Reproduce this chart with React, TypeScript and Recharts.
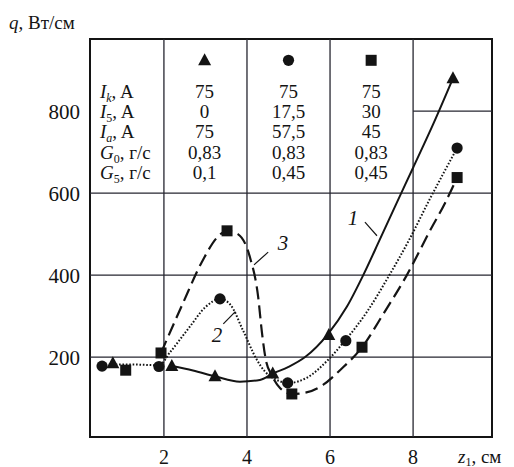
import React from 'react';
import {
  ComposedChart, XAxis, YAxis, Line, Scatter, ReferenceLine, ReferenceArea, ReferenceDot,
} from 'recharts';

// ---- axes ----
const X_DOMAIN: [number, number] = [0.22, 9.9];
const Y_DOMAIN: [number, number] = [5, 976];
const xTicks = [2, 4, 6, 8];
const yTicks = [200, 400, 600, 800];

// ---- measured points (markers) ----
const triPoints = [
  { x: 0.77, y: 185 }, { x: 2.19, y: 178 }, { x: 3.23, y: 153 },
  { x: 4.62, y: 160 }, { x: 5.97, y: 254 }, { x: 8.96, y: 880 },
];
const circlePoints = [
  { x: 0.51, y: 178 }, { x: 1.88, y: 177 }, { x: 3.35, y: 342 },
  { x: 4.98, y: 137 }, { x: 6.38, y: 240 }, { x: 9.06, y: 710 },
];
const squarePoints = [
  { x: 1.08, y: 168 }, { x: 1.93, y: 210 }, { x: 3.52, y: 508 },
  { x: 5.08, y: 110 }, { x: 6.77, y: 224 }, { x: 9.06, y: 638 },
];

// ---- curves ----
const curve1 = [
  { x: 2.19, y: 178 }, { x: 2.7, y: 167 }, { x: 3.23, y: 153 }, { x: 3.83, y: 140 },
  { x: 4.31, y: 144 }, { x: 4.63, y: 160 }, { x: 5.0, y: 176 }, { x: 5.4, y: 200 },
  { x: 5.95, y: 256 }, { x: 6.4, y: 322 }, { x: 6.8, y: 400 }, { x: 7.2, y: 487 },
  { x: 7.6, y: 575 }, { x: 8.0, y: 662 }, { x: 8.5, y: 772 }, { x: 8.96, y: 880 },
];
const curve2 = [
  { x: 0.51, y: 182 }, { x: 1.2, y: 182 }, { x: 1.88, y: 180 }, { x: 2.15, y: 212 },
  { x: 2.63, y: 275 }, { x: 3.0, y: 322 }, { x: 3.35, y: 342 }, { x: 3.6, y: 328 },
  { x: 3.9, y: 266 }, { x: 4.24, y: 193 }, { x: 4.43, y: 165 }, { x: 4.7, y: 145 },
  { x: 4.99, y: 137 }, { x: 5.45, y: 150 }, { x: 5.95, y: 193 }, { x: 6.36, y: 240 },
  { x: 6.9, y: 312 }, { x: 7.4, y: 395 }, { x: 7.9, y: 485 }, { x: 8.4, y: 585 },
  { x: 9.06, y: 710 },
];
const curve3 = [
  { x: 1.93, y: 210 }, { x: 2.46, y: 332 }, { x: 2.94, y: 437 }, { x: 3.3, y: 494 },
  { x: 3.52, y: 508 }, { x: 3.78, y: 500 }, { x: 4.07, y: 444 }, { x: 4.27, y: 346 },
  { x: 4.36, y: 260 }, { x: 4.45, y: 195 }, { x: 4.6, y: 155 }, { x: 4.8, y: 124 },
  { x: 5.08, y: 110 }, { x: 5.4, y: 113 }, { x: 5.83, y: 132 }, { x: 6.24, y: 168 },
  { x: 6.77, y: 224 }, { x: 7.3, y: 308 }, { x: 7.85, y: 400 }, { x: 8.4, y: 507 },
  { x: 8.77, y: 576 }, { x: 9.06, y: 638 },
];

// ---- table ----
const tableRowY = [849, 800, 751, 700, 651];
const tableSymbolY = 924;
const tableColX = [2.98, 5.0, 6.99];
const tableLabelX = 0.46;
const tableLabels = [
  { main: 'I', sub: 'k', subItalic: true, unit: ', A' },
  { main: 'I', sub: '5', subItalic: false, unit: ', A' },
  { main: 'I', sub: 'a', subItalic: true, unit: ', A' },
  { main: 'G', sub: '0', subItalic: false, unit: ', г/с' },
  { main: 'G', sub: '5', subItalic: false, unit: ', г/с' },
];
const tableValues = [
  ['75', '0', '75', '0,83', '0,1'],
  ['75', '17,5', '57,5', '0,83', '0,45'],
  ['75', '30', '45', '0,83', '0,45'],
];

// ---- curve labels ----
const curveLabels = [
  { text: '1', x: 6.55, y: 539, lx1: 6.84, ly1: 529, lx2: 7.13, ly2: 496 },
  { text: '2', x: 3.28, y: 255, lx1: 3.43, ly1: 281, lx2: 3.72, ly2: 311 },
  { text: '3', x: 4.87, y: 480, lx1: 4.51, ly1: 456, lx2: 4.17, ly2: 425 },
];

const FONT = '"Liberation Serif", "Times New Roman", serif';
const INK = '#141414';
const GRID = '#262630';

const Triangle = (p: any) => {
  const { cx, cy } = p;
  if (cx == null || cy == null) return <g />;
  return <path d={`M${cx},${cy - 7} L${cx + 6.5},${cy + 5} L${cx - 6.5},${cy + 5} Z`} fill={INK} />;
};
const Circle = (p: any) => {
  const { cx, cy } = p;
  if (cx == null || cy == null) return <g />;
  return <circle cx={cx} cy={cy} r={5.6} fill={INK} />;
};
const Square = (p: any) => {
  const { cx, cy } = p;
  if (cx == null || cy == null) return <g />;
  return <rect x={cx - 5.5} y={cy - 5.5} width={11} height={11} fill={INK} />;
};
const symbolShapes = [Triangle, Circle, Square];

function textDot(key: string, x: number, y: number, content: React.ReactNode, anchor: string, size: number, italic = false) {
  return (
    <ReferenceDot
      key={key}
      x={x}
      y={y}
      r={0}
      ifOverflow="visible"
      shape={(p: any) => (
        <text
          x={p.cx}
          y={p.cy}
          dy="0.35em"
          textAnchor={anchor as any}
          fontFamily={FONT}
          fontSize={size}
          fontStyle={italic ? 'italic' : 'normal'}
          fill={INK}
        >
          {content}
        </text>
      )}
    />
  );
}

export default function App() {
  return (
    <div style={{ position: 'absolute', left: 0, top: 0, width: 514, height: 467, overflow: 'hidden', background: '#fff' }}>
      <ComposedChart width={514} height={467} margin={{ top: 39, right: 22, bottom: 0, left: 0 }}>
        <XAxis
          type="number"
          dataKey="x"
          domain={X_DOMAIN}
          ticks={xTicks}
          allowDataOverflow
          axisLine={false}
          tickLine={false}
          tickSize={6}
          tickMargin={7}
          height={30}
          tick={{ fontSize: 20, fill: INK, fontFamily: FONT }}
        />
        <YAxis
          type="number"
          dataKey="y"
          domain={Y_DOMAIN}
          ticks={yTicks}
          allowDataOverflow
          axisLine={false}
          tickLine={false}
          tickSize={6}
          tickMargin={4}
          width={90}
          tick={{ fontSize: 21, fill: INK, fontFamily: FONT }}
        />

        {xTicks.map((t) => (
          <ReferenceLine key={`vx${t}`} x={t} stroke={GRID} strokeWidth={1.3} />
        ))}
        {yTicks.filter((t) => t < 800).map((t) => (
          <ReferenceLine key={`hy${t}`} y={t} stroke={GRID} strokeWidth={1.3} />
        ))}
        <ReferenceLine
          segment={[{ x: 8, y: 800 }, { x: X_DOMAIN[1], y: 800 }]}
          stroke={GRID}
          strokeWidth={1.3}
        />
        <ReferenceArea
          x1={X_DOMAIN[0]}
          x2={X_DOMAIN[1]}
          y1={Y_DOMAIN[0]}
          y2={Y_DOMAIN[1]}
          fill="none"
          stroke={INK}
          strokeWidth={2}
          ifOverflow="visible"
        />

        <Line data={curve1} dataKey="y" type="monotone" dot={false} activeDot={false} stroke={INK} strokeWidth={2} isAnimationActive={false} />
        <Line data={curve2} dataKey="y" type="monotone" dot={false} activeDot={false} stroke={INK} strokeWidth={2} strokeDasharray="1.6 1.8" isAnimationActive={false} />
        <Line data={curve3} dataKey="y" type="monotone" dot={false} activeDot={false} stroke={INK} strokeWidth={2.2} strokeDasharray="13 6" isAnimationActive={false} />

        <Scatter data={triPoints} dataKey="y" shape={Triangle} isAnimationActive={false} />
        <Scatter data={circlePoints} dataKey="y" shape={Circle} isAnimationActive={false} />
        <Scatter data={squarePoints} dataKey="y" shape={Square} isAnimationActive={false} />

        {curveLabels.map((c) => (
          <ReferenceLine
            key={`lead${c.text}`}
            segment={[{ x: c.lx1, y: c.ly1 }, { x: c.lx2, y: c.ly2 }]}
            stroke={INK}
            strokeWidth={1.2}
          />
        ))}
        {curveLabels.map((c) => textDot(`cl${c.text}`, c.x, c.y, c.text, 'middle', 21, true))}

        {tableColX.map((cx, i) => {
          const Shape = symbolShapes[i];
          return (
            <ReferenceDot key={`sym${i}`} x={cx} y={tableSymbolY} r={0} ifOverflow="visible" shape={(p: any) => <Shape cx={p.cx} cy={p.cy} />} />
          );
        })}
        {tableLabels.map((l, r) =>
          textDot(
            `lab${r}`,
            tableLabelX,
            tableRowY[r],
            <>
              <tspan fontStyle="italic">{l.main}</tspan>
              <tspan fontSize={12} dy={4} fontStyle={l.subItalic ? 'italic' : 'normal'}>{l.sub}</tspan>
              <tspan dy={-4}>{l.unit}</tspan>
            </>,
            'start',
            19,
          ),
        )}
        {tableValues.map((col, c) =>
          col.map((v, r) => textDot(`val${c}-${r}`, tableColX[c], tableRowY[r], v, 'middle', 19)),
        )}
      </ComposedChart>

      <div style={{ position: 'absolute', left: 9, top: 11, fontFamily: FONT, fontSize: 19, color: INK, lineHeight: '24px', whiteSpace: 'nowrap' }}>
        <i>q</i>, Вт/см
      </div>
      <div style={{ position: 'absolute', left: 458, top: 445, fontFamily: FONT, fontSize: 19, color: INK, lineHeight: '24px', whiteSpace: 'nowrap' }}>
        <i>z</i><span style={{ fontSize: 12, position: 'relative', top: 3 }}>1</span>, см
      </div>
    </div>
  );
}
